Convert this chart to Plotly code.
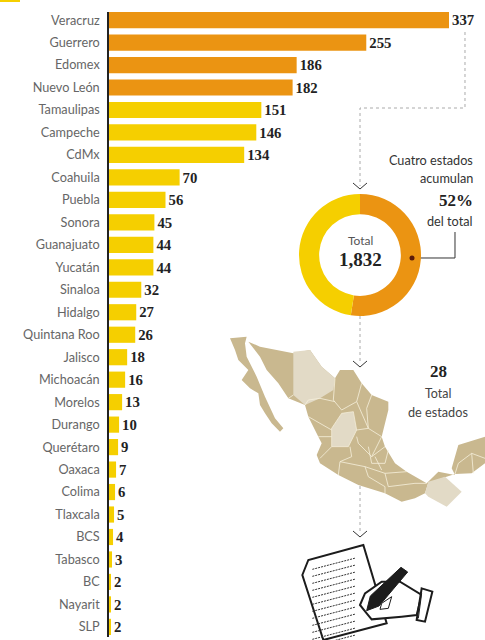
import plotly.graph_objects as go

states = ["Veracruz","Guerrero","Edomex","Nuevo León","Tamaulipas","Campeche","CdMx","Coahuila","Puebla","Sonora",
          "Guanajuato","Yucatán","Sinaloa","Hidalgo","Quintana Roo","Jalisco","Michoacán","Morelos","Durango",
          "Querétaro","Oaxaca","Colima","Tlaxcala","BCS","Tabasco","BC","Nayarit","SLP"]
cases = [337,255,186,182,151,146,134,70,56,45,44,44,32,27,26,18,16,13,10,9,7,6,5,4,3,2,2,2]
top_n = 4
share_label = "52%"
total_label = "1,832"
n_states_label = "28"

ORANGE = "#EB9412"; YELLOW = "#F5CF00"; TAN = "#C9B88F"; PALE = "#E2DAC6"; CREAM = "#F6F0DC"
W, H = 485, 640
SERIF = "Liberation Serif"; SANS = "Lato"

colors = [ORANGE]*top_n + [YELLOW]*(len(cases)-top_n)
fig = go.Figure()
fig.add_trace(go.Bar(
    y=states, x=cases, orientation="h", marker=dict(color=colors, line_width=0), width=0.72,
    texttemplate="<b>%{x}</b>", textposition="outside", cliponaxis=False,
    textfont=dict(family=SERIF, size=15.5, color="#222"), hoverinfo="skip", showlegend=False))
fig.add_trace(go.Pie(
    values=[sum(cases[:top_n]), sum(cases[top_n:])], marker=dict(colors=[ORANGE, YELLOW], line_width=0),
    hole=0.67, sort=False, direction="clockwise", rotation=0, textinfo="none", showlegend=False,
    domain=dict(x=[299/W, 421/W], y=[1-316/H, 1-194/H])))

def P(pts, z=None, close=True):
    q = [(z[0]+x/3, z[1]+y/3) for x, y in pts] if z else pts
    d = "M" + " L".join(f"{x/W:.5f},{1-y/H:.5f}" for x, y in q)
    return d + (" Z" if close else "")

shapes = []
def add(pts, z=None, fill=None, line=None, lw=1, close=True, dash=None):
    s = dict(type="path", xref="paper", yref="paper", path=P(pts, z, close), layer="below",
             line=dict(color=line or "rgba(0,0,0,0)", width=lw if line else 0))
    if dash: s["line"]["dash"] = dash
    if fill: s["fillcolor"] = fill
    shapes.append(s)

# sliver of cropped artwork at the very top
add([(0,0),(20,0),(20,2),(0,2)], fill=YELLOW)

# dotted connectors
CONN = "#aaa"
add([(465,32),(465,108),(360,108),(360,186)], line=CONN, lw=1, close=False, dash="dot")
add([(360,316),(360,364)], line=CONN, lw=1, close=False, dash="dot")
add([(360,480),(360,534)], line=CONN, lw=1, close=False, dash="dot")

# map
Z = (225, 330)
add([(15,25),(65,20),(60,40),(65,80),(95,140),(120,200),(150,265),(175,295),(165,305),(140,280),(120,250),(105,225),(100,190),(75,175),(50,150),(70,120),(40,90),(30,60)], Z, fill=TAN)
body = [(70,35),(105,50),(205,70),(255,60),(290,110),(330,145),(345,120),(385,120),(410,160),(440,195),(490,215),(490,240),
        (470,320),(480,350),(510,400),(545,425),(605,460),(640,425),(690,435),(680,415),(700,345),(780,320),(780,400),(740,430),(690,432),(660,442),
        (610,458),(600,490),(570,505),(530,515),(480,490),(400,465),(340,435),(285,400),(275,375),(290,340),(280,320),(250,260),(240,225),(190,205),(160,160),(125,120),(105,80)]
add(body, Z, fill=TAN)
add([(205,65),(255,60),(290,110),(330,145),(325,180),(285,205),(240,225),(205,195),(205,130)], Z, fill=PALE)
add([(320,295),(350,250),(385,245),(395,300),(370,350),(320,350)], Z, fill=PALE, line=CREAM, lw=0.7)
add([(610,455),(660,440),(710,485),(665,530),(610,500),(600,490)], Z, fill=PALE)
for seg in [[(190,205),(205,195)],[(240,225),(250,210),(285,205)],[(330,145),(325,210),(350,240)],[(285,205),(330,215)],
            [(250,260),(320,300)],[(350,240),(395,215),(410,160)],[(395,215),(430,295),(470,320)],[(440,195),(425,235),(430,295)],
            [(395,300),(430,295)],[(280,320),(320,320)],[(320,350),(300,370),(285,385)],[(340,435),(345,395),(380,380),(375,350)],
            [(395,320),(400,340),(440,380),(470,320)],[(440,380),(480,350)],[(345,395),(420,410),(480,430),(545,425)],
            [(420,410),(430,440),(480,470),(480,490)],[(480,430),(490,470),(570,460),(605,460)],[(430,350),(440,400),(480,400),(490,360)],
            [(450,380),(470,420)],[(700,400),(740,370),(780,385)],[(740,370),(745,430)],[(690,432),(700,400)]]:
    add(seg, Z, line=CREAM, lw=0.8, close=False)

# chevrons
for y in (183, 361, 531):
    add([(353,y),(360,y+6),(367,y)], line="#333", lw=1, close=False)

# callout
add([(412,258),(455,258),(455,232)], line="#333", lw=1, close=False)

# document and hand icon
K = "#1c1c1c"
add([(232,735),(250,690),(415,645),(485,880),(295,930)], Z, fill="white", line=K, lw=2)
for i in range(12):
    y = i*21
    add([(262,718+y),(392,684+y)], Z, line="#333", lw=1, close=False, dash="2px,1px")
add([(405,825),(420,790),(470,755),(525,755),(590,795),(575,855),(530,860),(440,868),(425,850)], Z, fill="white", line=K, lw=2)
add([(590,775),(622,785),(600,875),(575,870)], Z, fill="white", line=K, lw=2)
add([(590,790),(580,865)], Z, line=K, lw=1, close=False)
add([(528,712),(548,726),(462,828),(425,842),(436,798)], Z, fill=K, line=K, lw=1)
add([(470,820),(500,800),(490,835),(465,838)], Z, fill="white", line=K, lw=1)

# callout dot sits above the ring
shapes.append(dict(type="circle", xref="paper", yref="paper", x0=409.5/W, x1=414.5/W, y0=1-260.5/H, y1=1-255.5/H,
                   fillcolor="#5a1a0a", line_width=0, layer="above"))

def txt(x, y, s, size, fam=SANS, color="#333", anchor="center", bold=False):
    return dict(x=x/W, y=1-y/H, xref="paper", yref="paper", text=f"<b>{s}</b>" if bold else s, showarrow=False,
                xanchor=anchor, yanchor="middle", font=dict(family=fam, size=size, color=color))

anns = [
    txt(475,160,"Cuatro estados",12.7,anchor="right"),
    txt(475,178,"acumulan",12.7,anchor="right"),
    txt(475,200,share_label,17,SERIF,"#222","right",True),
    txt(475,221,"del total",12.7,anchor="right"),
    txt(360,240,"Total",12,color="#555"),
    txt(360,259,total_label,19,SERIF,"#222",bold=True),
    txt(438,371,n_states_label,17,SERIF,"#222",bold=True),
    txt(438,393,"Total",12.5,color="#444"),
    txt(438,412,"de estados",12.7,color="#444"),
]

px_per = 340/337
fig.update_layout(
    width=W, height=H, margin=dict(l=0,r=0,t=0,b=0), paper_bgcolor="white", plot_bgcolor="rgba(0,0,0,0)",
    shapes=shapes, annotations=anns, showlegend=False,
    xaxis=dict(domain=[109/W,1], range=[0,(W-109)/px_per], visible=False, fixedrange=True),
    yaxis=dict(domain=[1-637/H,1-12/H], range=[27.45,-0.36], type="category", categoryorder="array", categoryarray=states,
               showline=True, linecolor="#222", linewidth=1.5, ticks="", showgrid=False, zeroline=False,
               tickmode="array", tickvals=states, ticktext=states, ticklabelstandoff=5,
               tickfont=dict(family=SANS, size=12.7, color="#666"), automargin=False, fixedrange=True),
)
fig.write_html("out.html", config=dict(displayModeBar=False),
               post_script="document.body.style.margin='0';document.documentElement.style.overflow='hidden';")
